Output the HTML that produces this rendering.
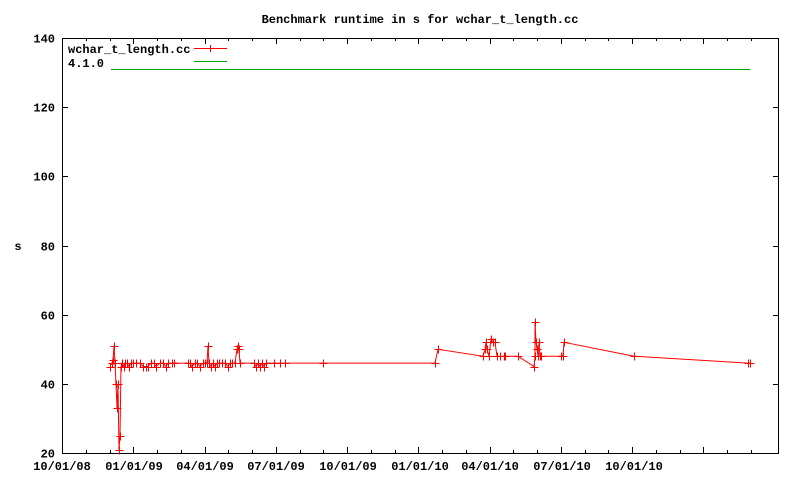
<!DOCTYPE html>
<html><head><meta charset="utf-8"><style>
body{margin:0;background:#fff}
svg{display:block}
text{font-family:"Liberation Mono",monospace;font-size:12px;font-weight:bold;fill:#000}
</style></head><body>
<svg id="s" width="800" height="480" xmlns="http://www.w3.org/2000/svg">
<text x="420" y="23" text-anchor="middle">Benchmark runtime in s for wchar_t_length.cc</text>
<text x="18" y="250" text-anchor="middle">s</text>
<g id="ax" stroke="#000" stroke-width="1" fill="none"></g>
<g id="lab"></g>
<rect x="62.5" y="38.5" width="716" height="415" fill="none" stroke="#000"/>
<text x="68" y="53">wchar_t_length.cc</text>
<text x="68" y="67">4.1.0</text>
<line x1="194" y1="48.5" x2="227" y2="48.5" stroke="#f00"/>
<line x1="210.5" y1="45" x2="210.5" y2="52" stroke="#f00"/>
<line x1="194" y1="61.5" x2="227" y2="61.5" stroke="#00a000"/>
<line x1="111" y1="69.5" x2="750" y2="69.5" stroke="#00a000"/>
<g id="data"></g>
</svg>
<script>
var ns="http://www.w3.org/2000/svg";
function el(p,t,a,txt){var e=document.createElementNS(ns,t);for(var k in a)e.setAttribute(k,a[k]);if(txt)e.textContent=txt;p.appendChild(e);return e;}
var ax=document.getElementById('ax'),lab=document.getElementById('lab'),dg=document.getElementById('data');
function Y(v){return 453-(v-20)*415/120;}
for(var v=20;v<=140;v+=20){var y=Math.round(Y(v))+0.5;
el(ax,'line',{x1:62,y1:y,x2:68,y2:y});el(ax,'line',{x1:773,y1:y,x2:779,y2:y});
el(lab,'text',{x:55,y:y+4,'text-anchor':'end'},String(v));}
var majors=[62,134,205,276,348,420,490,562,634];
var names=["10/01/08","01/01/09","04/01/09","07/01/09","10/01/09","01/01/10","04/01/10","07/01/10","10/01/10"];
for(var i=0;i<30;i++){var x=62+i*23.75;if(x>779)break;x=Math.round(x)+0.5;var L=(i%3==0)?6:3;
el(ax,'line',{x1:x,y1:453,x2:x,y2:453-L});el(ax,'line',{x1:x,y1:38,x2:x,y2:38+L});}
majors.forEach(function(x,i){el(lab,'text',{x:x,y:470,'text-anchor':'middle'},names[i]);});
var d=[[110,45],[112,46],[113,47],[114,51],[115,46],[116,40],[117,33],[118,40],[119,21],[120,25],[121,45],[122,46],[124,45],[125,46],[127,46],[129,45],[131,46],[133,46],[136,46],[140,46],[143,45],[146,45],[148,45],[151,46],[154,46],[156,45],[160,46],[163,46],[166,45],[168,46],[172,46],[174,46],[188,46],[190,46],[192,45],[195,46],[197,46],[200,45],[203,46],[205,46],[207,46],[208,51],[209,46],[211,45],[213,46],[215,45],[217,46],[219,46],[222,46],[225,46],[228,45],[230,46],[232,46],[235,46],[237,50],[238,51],[239,50],[240,46],[254,46],[256,45],[258,46],[260,45],[262,46],[264,45],[266,46],[274,46],[280,46],[285,46],[323,46],[435,46],[438,50],[483,48],[485,50],[486,52],[487,50],[489,48],[491,53],[493,52],[495,52],[497,48],[500,48],[504,48],[505,48],[518,48],[534,45],[535,48],[535,58],[536,52],[537,50],[538,48],[539,52],[540,48],[541,48],[561,48],[563,48],[564,52],[634,48],[748,46],[750,46]];
var pts=d.map(function(p){return p[0]+","+Y(p[1]).toFixed(1);}).join(" ");
el(dg,'polyline',{points:pts,fill:'none',stroke:'#f00','stroke-width':1});
d.forEach(function(p){var x=p[0]+0.5,y=Math.round(Y(p[1]))+0.5;
el(dg,'line',{x1:x-4,y1:y,x2:x+4,y2:y,stroke:'#f00'});el(dg,'line',{x1:x,y1:y-4,x2:x,y2:y+4,stroke:'#f00'});});
</script>
</body></html>
